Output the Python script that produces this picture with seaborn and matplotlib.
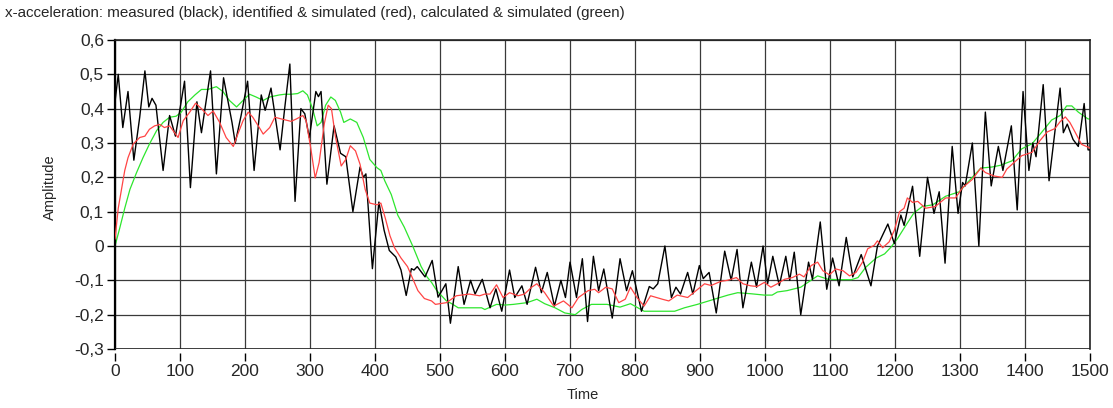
import seaborn as sns
import pandas as pd
import matplotlib.pyplot as plt

# measured (black)
black_t = [0, 5, 12, 20, 29, 38, 46, 52, 57, 63, 74, 84, 93, 107, 116, 126, 133, 147, 156, 167,
           180, 185, 194, 204, 214, 225, 231, 240, 254, 261, 269, 277, 286, 292, 299, 309, 313, 317,
           326, 337, 347, 355, 366, 377, 382, 386, 396, 406, 414, 422, 432, 440, 448, 456, 460, 465,
           477, 488, 497, 503, 509, 516, 528, 537, 547, 554, 565, 577, 586, 595, 607, 615, 626, 634,
           647, 656, 665, 676, 686, 693, 700, 710, 719, 727, 736, 744, 752, 765, 777, 787, 796, 810,
           822, 828, 835, 846, 856, 863, 870, 881, 889, 899, 905, 914, 925, 938, 948, 957, 966, 979,
           987, 997, 1004, 1012, 1022, 1032, 1038, 1045, 1055, 1067, 1073, 1085, 1095, 1104, 1114,
           1125, 1135, 1148, 1163, 1173, 1189, 1199, 1209, 1214, 1227, 1238, 1250, 1260, 1268, 1277,
           1288, 1297, 1304, 1308, 1319, 1329, 1339, 1348, 1359, 1366, 1379, 1388, 1397, 1406, 1412,
           1417, 1428, 1437, 1454, 1459, 1465, 1474, 1482, 1491, 1497, 1500]
black_v = [0.42, 0.50, 0.345, 0.45, 0.25, 0.375, 0.51, 0.405, 0.43, 0.41, 0.22, 0.38, 0.32, 0.48,
           0.17, 0.42, 0.33, 0.51, 0.21, 0.49, 0.36, 0.30, 0.38, 0.48, 0.22, 0.44, 0.395, 0.46, 0.28,
           0.40, 0.53, 0.13, 0.40, 0.385, 0.315, 0.45, 0.435, 0.45, 0.18, 0.35, 0.27, 0.26, 0.10,
           0.23, 0.20, 0.21, -0.066, 0.128, 0.046, -0.013, -0.032, -0.07, -0.144, -0.066, -0.07,
           -0.06, -0.09, -0.042, -0.149, -0.13, -0.11, -0.225, -0.06, -0.17, -0.10, -0.14, -0.097,
           -0.18, -0.125, -0.19, -0.07, -0.15, -0.116, -0.17, -0.062, -0.136, -0.077, -0.175, -0.10,
           -0.15, -0.047, -0.15, -0.037, -0.22, -0.03, -0.13, -0.067, -0.21, -0.037, -0.13, -0.072,
           -0.19, -0.118, -0.125, -0.11, 0.0, -0.15, -0.12, -0.14, -0.077, -0.14, -0.057, -0.095,
           -0.077, -0.195, -0.015, -0.10, -0.01, -0.18, -0.047, -0.12, 0.0, -0.11, -0.03, -0.115,
           -0.03, -0.10, -0.018, -0.20, -0.047, -0.097, 0.07, -0.126, -0.035, -0.116, 0.025, -0.09,
           -0.025, -0.116, 0.0, 0.064, 0.007, 0.09, 0.06, 0.174, -0.03, 0.20, 0.095, 0.158, -0.05,
           0.29, 0.095, 0.185, 0.175, 0.30, 0.0, 0.39, 0.175, 0.29, 0.22, 0.35, 0.105, 0.45, 0.22,
           0.30, 0.26, 0.47, 0.19, 0.46, 0.33, 0.355, 0.31, 0.29, 0.415, 0.28, 0.28]

# identified & simulated (red)
red_t = [0, 5, 10, 15, 20, 28, 38, 46, 53, 61, 69, 76, 84, 97, 105, 115, 124, 133, 143, 151, 161,
         171, 182, 189, 197, 205, 212, 222, 228, 238, 246, 256, 271, 279, 289, 294, 301, 308, 314,
         322, 328, 333, 339, 348, 355, 362, 370, 377, 385, 392, 403, 409, 416, 423, 430, 440, 450,
         458, 466, 476, 487, 493, 510, 525, 545, 561, 569, 577, 587, 597, 607, 620, 630, 641, 649,
         661, 675, 690, 703, 713, 728, 738, 744, 755, 765, 775, 785, 793, 803, 814, 824, 842, 852,
         865, 881, 894, 907, 917, 932, 942, 956, 966, 978, 988, 999, 1009, 1019, 1030, 1042, 1053,
         1060, 1071, 1081, 1089, 1099, 1109, 1120, 1130, 1140, 1150, 1158, 1168, 1173, 1181, 1191,
         1199, 1207, 1214, 1219, 1227, 1235, 1247, 1262, 1278, 1293, 1304, 1319, 1332, 1339, 1352,
         1365, 1372, 1383, 1395, 1411, 1423, 1434, 1446, 1454, 1462, 1469, 1477, 1487, 1497, 1500]
red_v = [0.02, 0.11, 0.165, 0.22, 0.257, 0.297, 0.316, 0.32, 0.34, 0.35, 0.354, 0.345, 0.35, 0.316,
         0.365, 0.39, 0.416, 0.40, 0.38, 0.393, 0.36, 0.316, 0.29, 0.326, 0.365, 0.39, 0.375, 0.345,
         0.326, 0.345, 0.375, 0.37, 0.363, 0.37, 0.38, 0.365, 0.287, 0.198, 0.243, 0.356, 0.41, 0.40,
         0.32, 0.233, 0.252, 0.292, 0.277, 0.238, 0.164, 0.125, 0.12, 0.125, 0.08, 0.03, -0.005,
         -0.035, -0.06, -0.095, -0.13, -0.153, -0.16, -0.17, -0.165, -0.145, -0.14, -0.145, -0.14,
         -0.14, -0.113, -0.15, -0.136, -0.145, -0.14, -0.12, -0.11, -0.136, -0.175, -0.16, -0.18,
         -0.15, -0.13, -0.126, -0.136, -0.12, -0.125, -0.165, -0.155, -0.12, -0.15, -0.175, -0.145,
         -0.155, -0.16, -0.143, -0.15, -0.13, -0.11, -0.115, -0.103, -0.10, -0.092, -0.11, -0.116,
         -0.118, -0.106, -0.12, -0.11, -0.097, -0.092, -0.082, -0.09, -0.057, -0.047, -0.072, -0.084,
         -0.067, -0.072, -0.087, -0.077, -0.047, -0.008, 0.002, 0.015, -0.005, 0.012, 0.046, 0.10,
         0.11, 0.14, 0.127, 0.13, 0.11, 0.115, 0.14, 0.14, 0.17, 0.194, 0.227, 0.214, 0.204, 0.20,
         0.224, 0.243, 0.263, 0.273, 0.307, 0.332, 0.342, 0.362, 0.376, 0.36, 0.332, 0.296, 0.288,
         0.285]

# calculated & simulated (green)
green_t = [0, 7, 15, 23, 33, 43, 53, 64, 74, 84, 94, 102, 112, 123, 133, 143, 156, 166, 176, 187,
           197, 207, 217, 228, 238, 253, 261, 271, 281, 289, 296, 304, 311, 317, 324, 332, 339, 347,
           352, 362, 372, 382, 392, 403, 409, 415, 425, 435, 445, 458, 471, 480, 487, 495, 500, 510,
           518, 528, 551, 564, 569, 587, 600, 613, 634, 649, 661, 677, 692, 708, 718, 733, 749, 757,
           777, 793, 814, 835, 861, 876, 896, 922, 943, 958, 978, 999, 1011, 1019, 1034, 1055, 1073,
           1081, 1097, 1112, 1133, 1143, 1155, 1171, 1184, 1194, 1204, 1217, 1229, 1242, 1258, 1278,
           1299, 1314, 1332, 1349, 1362, 1380, 1395, 1411, 1426, 1441, 1454, 1464, 1472, 1482, 1497,
           1500]
green_v = [0.0, 0.05, 0.11, 0.165, 0.213, 0.257, 0.297, 0.336, 0.36, 0.375, 0.378, 0.39, 0.42,
           0.44, 0.456, 0.456, 0.464, 0.45, 0.424, 0.405, 0.424, 0.442, 0.434, 0.424, 0.434, 0.44,
           0.442, 0.442, 0.444, 0.452, 0.44, 0.40, 0.35, 0.36, 0.41, 0.434, 0.424, 0.39, 0.36, 0.37,
           0.36, 0.316, 0.252, 0.228, 0.22, 0.19, 0.15, 0.09, 0.055, 0.0, -0.06, -0.09, -0.106,
           -0.13, -0.14, -0.16, -0.168, -0.18, -0.18, -0.18, -0.185, -0.17, -0.172, -0.17, -0.165,
           -0.155, -0.168, -0.18, -0.195, -0.20, -0.185, -0.17, -0.17, -0.17, -0.178, -0.168, -0.19,
           -0.19, -0.19, -0.18, -0.17, -0.155, -0.143, -0.136, -0.139, -0.143, -0.143, -0.134, -0.13,
           -0.12, -0.097, -0.087, -0.097, -0.098, -0.098, -0.092, -0.062, -0.035, -0.023, -0.003,
           0.022, 0.061, 0.096, 0.115, 0.12, 0.145, 0.158, 0.19, 0.227, 0.23, 0.235, 0.248, 0.283,
           0.298, 0.332, 0.367, 0.38, 0.408, 0.408, 0.39, 0.37, 0.37]

x_ticks = [0, 100, 200, 300, 400, 500, 600, 700, 800, 900, 1000, 1100, 1200, 1300, 1400, 1500]
y_ticks = [-0.3, -0.2, -0.1, 0.0, 0.1, 0.2, 0.3, 0.4, 0.5, 0.6]
y_tick_labels = ["-0,3", "-0,2", "-0,1", "0", "0,1", "0,2", "0,3", "0,4", "0,5", "0,6"]

sns.set_style("white")
plt.rcParams["font.family"] = ["Liberation Sans", "DejaVu Sans"]

fig = plt.figure(figsize=(11.13, 4.08), dpi=100)
ax = fig.add_axes([115 / 1113, 59 / 408, 975 / 1113, 309 / 408])

black = pd.DataFrame({"Time": black_t, "Amplitude": black_v})
red = pd.DataFrame({"Time": red_t, "Amplitude": red_v})
green = pd.DataFrame({"Time": green_t, "Amplitude": green_v})

sns.lineplot(data=black, x="Time", y="Amplitude", color="black", linewidth=1.0, ax=ax, zorder=3)
sns.lineplot(data=red, x="Time", y="Amplitude", color="#ff4444", linewidth=0.9, ax=ax, zorder=4)
sns.lineplot(data=green, x="Time", y="Amplitude", color="#2ee62e", linewidth=0.9, ax=ax, zorder=2)

ax.set_xlim(0, 1500)
ax.set_ylim(-0.3, 0.6)
ax.set_xticks(x_ticks)
ax.set_xticklabels([str(t) for t in x_ticks])
ax.set_yticks(y_ticks)
ax.set_yticklabels(y_tick_labels)
ax.grid(True, color="#3a3a3a", linewidth=0.9)
ax.set_axisbelow(True)
ax.set_xlabel("")
ax.set_ylabel("")

for side in ["top", "right"]:
    ax.spines[side].set_color("#222222")
    ax.spines[side].set_linewidth(1.2)
ax.spines["left"].set_color("black")
ax.spines["left"].set_linewidth(1.6)
ax.spines["bottom"].set_position(("outward", 3))
ax.spines["bottom"].set_edgecolor("none")
ax.axhline(-0.3, color="#222222", linewidth=1.2, zorder=5)

ax.tick_params(axis="both", which="major", direction="out", length=6, width=1,
               color="black", labelsize=12.5, bottom=True, left=True, pad=2)

fig.text(5 / 1113, 1 - 13 / 408,
         "x-acceleration: measured (black), identified & simulated (red), calculated & simulated (green)",
         ha="left", va="center", fontsize=10.9)
fig.text(583 / 1113, 1 - 395 / 408, "Time", ha="center", va="center", fontsize=10.5)
fig.text(50 / 1113, 1 - 187 / 408, "Amplitude", ha="center", va="center", rotation=90, fontsize=10.5)

fig.savefig("out.png", dpi=100)
